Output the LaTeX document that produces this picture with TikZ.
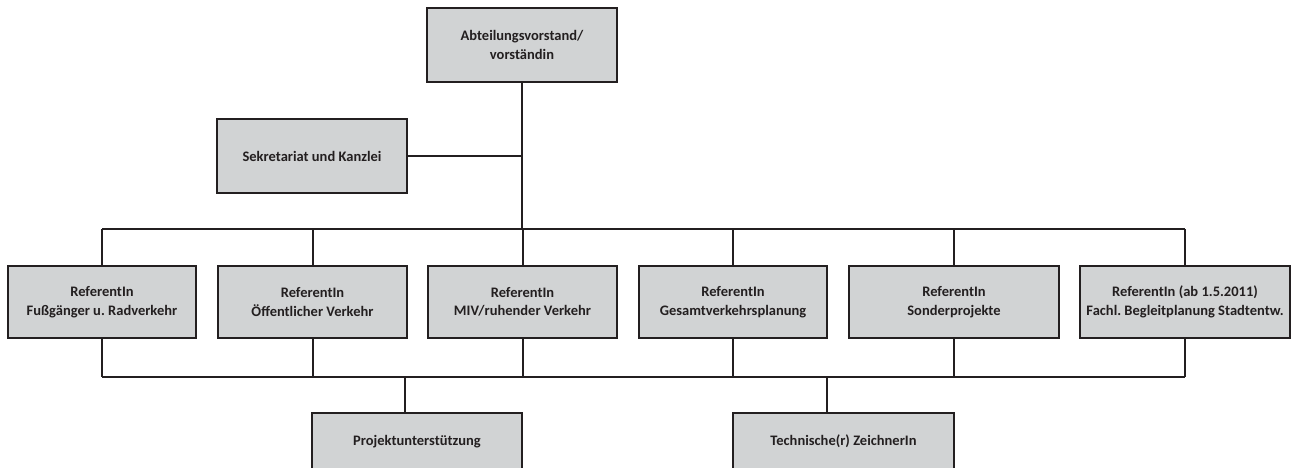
\documentclass[tikz,border=0pt]{standalone}
\usepackage{fontspec}
\setmainfont{Carlito}
\frenchspacing
\usetikzlibrary{positioning}
\definecolor{boxgray}{RGB}{209,211,212}
\definecolor{linedark}{RGB}{35,31,32}

\begin{document}
\begin{tikzpicture}[x=1pt,y=-1pt,
 line width=2pt,draw=linedark,
 orgbox/.style={draw=linedark,fill=boxgray,line width=2pt,inner sep=0pt,align=center,
  font=\bfseries\fontsize{14.5}{18.5}\selectfont,text=linedark,minimum height=72pt},
 wide/.style={minimum width=210pt}]
\clip (0,0) rectangle (1292,468);
\node[orgbox,minimum width=190pt,minimum height=74pt] (top) at (522,45) {Abteilungsvorstand/\\vorständin};
\node[orgbox,minimum width=190pt,minimum height=74pt] (sek) at (312,156) {Sekretariat und Kanzlei};
% Referate
\node[orgbox,minimum width=188pt] (r1) at (102,302) {ReferentIn\\Fußgänger u. Radverkehr};
\node[orgbox,minimum width=189pt] (r2) at (312.5,302) {ReferentIn\\Öffentlicher Verkehr};
\node[orgbox,minimum width=189pt] (r3) at (522.5,302) {ReferentIn\\MIV/ruhender Verkehr};
\node[orgbox,minimum width=188pt] (r4) at (733,302) {ReferentIn\\Gesamtverkehrsplanung};
\node[orgbox,wide] (r5) at (954,302) {ReferentIn\\Sonderprojekte};
\node[orgbox,wide] (r6) at (1185,302) {ReferentIn (ab 1.5.2011)\\Fachl. Begleitplanung Stadtentw.};
% Unterstuetzung
\node[orgbox,wide,minimum height=57pt] (proj) at (417,441.5) {Projektunterstützung};
\node[orgbox,minimum width=221pt,minimum height=57pt] (tech) at (843.5,441.5) {Technische(r) ZeichnerIn};
\coordinate (tb) at (522,229);
\coordinate (bb) at (522,377);
\coordinate (pj) at (405,377);
\coordinate (tz) at (827,377);
\draw (top.south) -- (top.south |- tb);
\draw (sek.east) -- (sek.east -| top.south);
\draw (r1.north |- tb) -- (r6.north |- tb);
\draw (r1.south |- bb) -- (r6.south |- bb);
\foreach \r in {r1,r2,r3,r4,r5,r6}{
 \draw (\r.north) -- (\r.north |- tb);
 \draw (\r.south) -- (\r.south |- bb);
}
\draw (pj) -- (pj |- proj.north);
\draw (tz) -- (tz |- tech.north);
\end{tikzpicture}
\end{document}
